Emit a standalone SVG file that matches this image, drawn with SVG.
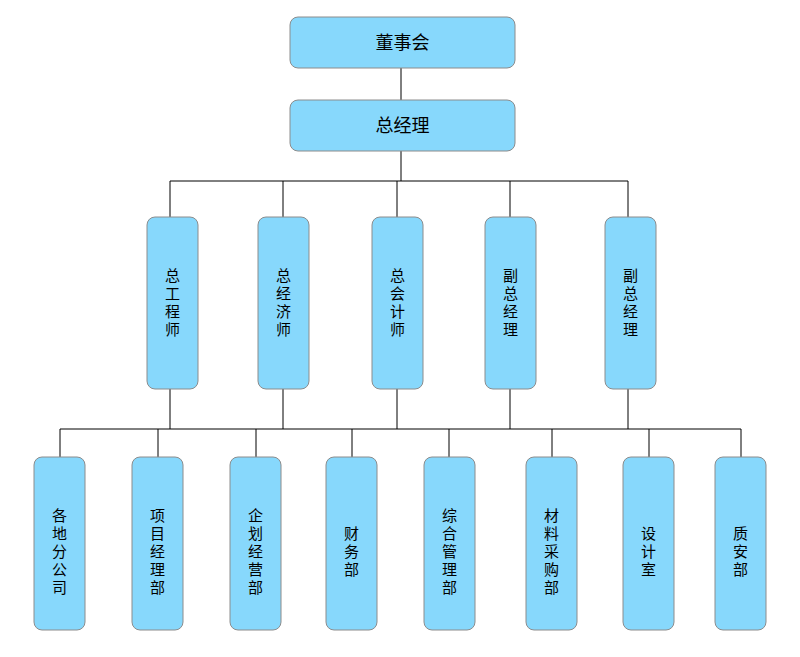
<svg xmlns="http://www.w3.org/2000/svg" width="800" height="657" viewBox="0 0 800 657">
<style>
rect{fill:#87d8fc;stroke:#8c8c8c;stroke-width:1}
text{font-family:"Noto Sans CJK SC",sans-serif;font-size:15px;fill:#000;text-anchor:middle}
text.big{font-size:18px}
.c line{stroke:#000;stroke-width:1}
</style>
<rect x="0" y="0" width="800" height="657" style="fill:#fff;stroke:none"/>
<g class="c">
<line x1="401" y1="68" x2="401" y2="100"/>
<line x1="401" y1="151" x2="401" y2="181"/>
<line x1="170" y1="181" x2="628" y2="181"/>
<line x1="170" y1="181" x2="170" y2="217"/>
<line x1="283" y1="181" x2="283" y2="217"/>
<line x1="397" y1="181" x2="397" y2="217"/>
<line x1="510" y1="181" x2="510" y2="217"/>
<line x1="628" y1="181" x2="628" y2="217"/>
<line x1="170" y1="389" x2="170" y2="429"/>
<line x1="283" y1="389" x2="283" y2="429"/>
<line x1="397" y1="389" x2="397" y2="429"/>
<line x1="510" y1="389" x2="510" y2="429"/>
<line x1="628" y1="389" x2="628" y2="429"/>
<line x1="60" y1="429" x2="741" y2="429"/>
<line x1="60" y1="429" x2="60" y2="457"/>
<line x1="158" y1="429" x2="158" y2="457"/>
<line x1="256" y1="429" x2="256" y2="457"/>
<line x1="352" y1="429" x2="352" y2="457"/>
<line x1="449" y1="429" x2="449" y2="457"/>
<line x1="552" y1="429" x2="552" y2="457"/>
<line x1="649" y1="429" x2="649" y2="457"/>
<line x1="741" y1="429" x2="741" y2="457"/>
</g>
<g id="n1"><rect x="290" y="17" width="225" height="51" rx="8"/><text class="big" x="402.5" y="49">董事会</text></g>
<g id="n2"><rect x="290" y="100" width="225" height="51" rx="8"/><text class="big" x="402.5" y="132">总经理</text></g>
<g id="m1"><rect x="147" y="217" width="51" height="172" rx="8"/><text x="172.5" y="281">总</text><text x="172.5" y="299">工</text><text x="172.5" y="317">程</text><text x="172.5" y="335">师</text></g>
<g id="m2"><rect x="258" y="217" width="51" height="172" rx="8"/><text x="283.5" y="281">总</text><text x="283.5" y="299">经</text><text x="283.5" y="317">济</text><text x="283.5" y="335">师</text></g>
<g id="m3"><rect x="372" y="217" width="51" height="172" rx="8"/><text x="397.5" y="281">总</text><text x="397.5" y="299">会</text><text x="397.5" y="317">计</text><text x="397.5" y="335">师</text></g>
<g id="m4"><rect x="485" y="217" width="51" height="172" rx="8"/><text x="510.5" y="281">副</text><text x="510.5" y="299">总</text><text x="510.5" y="317">经</text><text x="510.5" y="335">理</text></g>
<g id="m5"><rect x="605" y="217" width="51" height="172" rx="8"/><text x="630.5" y="281">副</text><text x="630.5" y="299">总</text><text x="630.5" y="317">经</text><text x="630.5" y="335">理</text></g>
<g id="b1"><rect x="34" y="457" width="51" height="173" rx="8"/><text x="59.5" y="521">各</text><text x="59.5" y="539">地</text><text x="59.5" y="557">分</text><text x="59.5" y="575">公</text><text x="59.5" y="593">司</text></g>
<g id="b2"><rect x="132" y="457" width="51" height="173" rx="8"/><text x="157.5" y="521">项</text><text x="157.5" y="539">目</text><text x="157.5" y="557">经</text><text x="157.5" y="575">理</text><text x="157.5" y="593">部</text></g>
<g id="b3"><rect x="230" y="457" width="51" height="173" rx="8"/><text x="255.5" y="521">企</text><text x="255.5" y="539">划</text><text x="255.5" y="557">经</text><text x="255.5" y="575">营</text><text x="255.5" y="593">部</text></g>
<g id="b4"><rect x="326" y="457" width="51" height="173" rx="8"/><text x="351.5" y="539">财</text><text x="351.5" y="557">务</text><text x="351.5" y="575">部</text></g>
<g id="b5"><rect x="424" y="457" width="51" height="173" rx="8"/><text x="449.5" y="521">综</text><text x="449.5" y="539">合</text><text x="449.5" y="557">管</text><text x="449.5" y="575">理</text><text x="449.5" y="593">部</text></g>
<g id="b6"><rect x="526" y="457" width="51" height="173" rx="8"/><text x="551.5" y="521">材</text><text x="551.5" y="539">料</text><text x="551.5" y="557">采</text><text x="551.5" y="575">购</text><text x="551.5" y="593">部</text></g>
<g id="b7"><rect x="623" y="457" width="51" height="173" rx="8"/><text x="648.5" y="539">设</text><text x="648.5" y="557">计</text><text x="648.5" y="575">室</text></g>
<g id="b8"><rect x="715" y="457" width="51" height="173" rx="8"/><text x="740.5" y="539">质</text><text x="740.5" y="557">安</text><text x="740.5" y="575">部</text></g>
</svg>
